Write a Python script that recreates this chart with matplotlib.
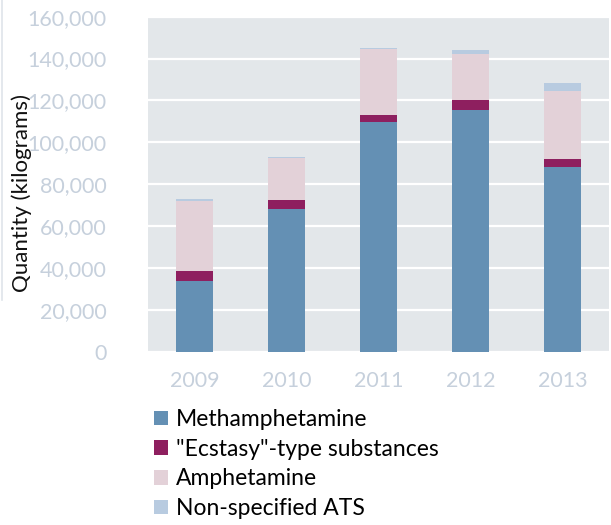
import matplotlib
matplotlib.use("Agg")
import matplotlib.pyplot as plt
from matplotlib.patches import Patch
from matplotlib.lines import Line2D
import numpy as np

years = ["2009", "2010", "2011", "2012", "2013"]
methamphetamine = [34000, 68000, 109700, 115400, 88200]
ecstasy = [4700, 4450, 3350, 4800, 4000]
amphetamine = [33400, 20200, 31350, 22000, 32300]
non_specified = [800, 300, 600, 1900, 4000]

series_names = ["Methamphetamine", "\"Ecstasy\"-type substances",
                "Amphetamine", "Non-specified ATS"]
series_colors = ["#6490b4", "#8e1f5f", "#e3d1d8", "#b8cbe0"]
y_ticks = [0, 20000, 40000, 60000, 80000, 100000, 120000, 140000, 160000]

plt.rcParams["font.family"] = ["Lato", "DejaVu Sans"]

fig = plt.figure(figsize=(6.11, 5.25), dpi=100)
ax = fig.add_axes([148 / 611, 173.3 / 525, 461 / 611, 335 / 525])
ax.set_facecolor("#e3e7ea")

x = np.arange(len(years))
bottom = np.zeros(len(years))
for vals, col in zip([methamphetamine, ecstasy, amphetamine, non_specified], series_colors):
    ax.bar(x, vals, width=0.4, bottom=bottom, color=col, zorder=3)
    bottom += np.array(vals)

ax.set_xlim(-0.505, 4.505)
ax.set_ylim(0, 160000)
ax.set_yticks(y_ticks)
ax.set_yticklabels([f"{v:,}" for v in y_ticks])
ax.set_xticks(x)
ax.set_xticklabels(years)
ax.grid(axis="y", color="white", linewidth=1.6, zorder=1)
ax.set_axisbelow(True)
for s in ax.spines.values():
    s.set_visible(False)
ax.tick_params(axis="both", length=0, labelsize=15.5, labelcolor="#c6d0dc")
ax.tick_params(axis="y", pad=30)
ax.tick_params(axis="x", pad=14)

fig.text(22 / 611, 1 - 193 / 525, "Quantity (kilograms)", rotation=90,
         fontsize=16, color="#111111", ha="center", va="center")

handles = [Patch(facecolor=c, edgecolor="none") for c in series_colors]
fig.legend(handles, series_names, loc="upper left",
           bbox_to_anchor=(154 / 611, 1 - 409 / 525), frameon=False,
           fontsize=16.5, handlelength=0.6, handleheight=0.6,
           handletextpad=0.35, labelspacing=0.38, borderaxespad=0, borderpad=0)

fig.add_artist(Line2D([0.003, 0.003], [1.0, 1 - 300 / 525], transform=fig.transFigure,
                      color="#dfe4ea", linewidth=1.2))

fig.savefig("out.png", dpi=100)
